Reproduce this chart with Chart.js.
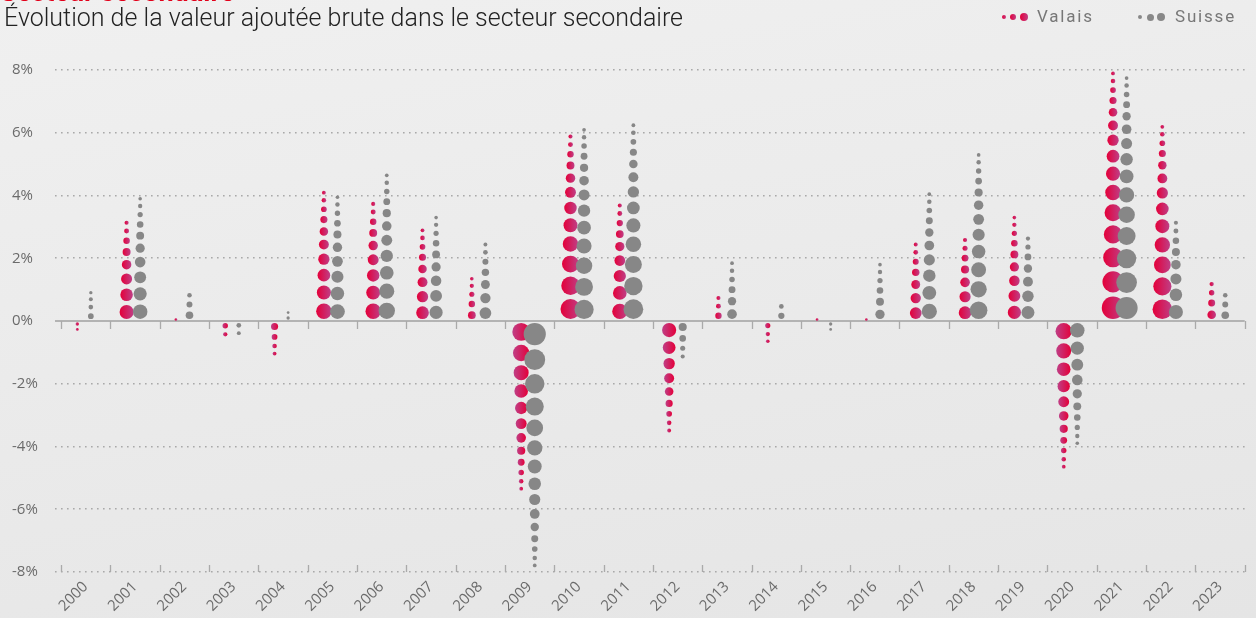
<!DOCTYPE html>
<html>
<head>
<meta charset="utf-8">
<script src="https://cdn.jsdelivr.net/npm/chart.js@4.4.1/dist/chart.umd.min.js"></script>
<style>
  body { margin: 0; }
  #wrap {
    position: relative; width: 1256px; height: 618px; overflow: hidden;
    background: linear-gradient(170deg, #f0f0f0 0%, #e5e5e5 100%);
    font-family: Roboto, "Open Sans", sans-serif;
  }
  #chart { position: absolute; left: 0; top: 0; }
  .title { position: absolute; left: 0; top: -24px; font-size: 27px; font-weight: 700; color: #e2001a; white-space: nowrap; }
  .subtitle { position: absolute; left: 4px; top: 3px; font-size: 25px; font-weight: 300; color: #222; white-space: nowrap; }
  .leg { position: absolute; top: 6px; font-size: 17px; color: #777; letter-spacing: 1.8px; white-space: nowrap; }
  .dot { position: absolute; border-radius: 50%; }
  .red { background: linear-gradient(90deg, #e4003a, #c23c82); }
  .grey { background: #888; }
</style>
</head>
<body>
<div id="wrap">
  <canvas id="chart" width="1256" height="618"></canvas>
  <div class="title">Secteur secondaire</div>
  <div class="subtitle">Évolution de la valeur ajoutée brute dans le secteur secondaire</div>
  <span class="dot red" style="left:1002px;top:15px;width:4px;height:4px"></span>
  <span class="dot red" style="left:1010px;top:14px;width:6px;height:6px"></span>
  <span class="dot red" style="left:1020px;top:13px;width:8px;height:8px"></span>
  <div class="leg" style="left:1037px">Valais</div>
  <span class="dot grey" style="left:1138px;top:15px;width:4px;height:4px"></span>
  <span class="dot grey" style="left:1147px;top:14px;width:7px;height:7px"></span>
  <span class="dot grey" style="left:1157px;top:13px;width:8px;height:8px"></span>
  <div class="leg" style="left:1175px">Suisse</div>
</div>
<script>
// Data (% change of gross value added, secondary sector)
const years = ["2000","2001","2002","2003","2004","2005","2006","2007","2008","2009","2010","2011",
               "2012","2013","2014","2015","2016","2017","2018","2019","2020","2021","2022","2023"];
const valais = [-0.35, 3.25, 0.1, -0.55, -1.15, 4.2, 3.85, 3.0, 1.45, -5.45, 6.0, 3.8,
                -3.6, 0.85, -0.75, 0.1, 0.1, 2.55, 2.7, 3.4, -4.75, 8.0, 6.3, 1.3];
const suisse = [1.0, 4.0, 0.95, -0.5, 0.35, 4.05, 4.75, 3.4, 2.55, -7.9, 6.2, 6.35,
                -1.25, 1.95, 0.6, -0.35, 1.9, 4.15, 5.4, 2.75, -4.0, 7.85, 3.25, 0.95];
const yTicks = [-8, -6, -4, -2, 0, 2, 4, 6, 8];

const RED = "#e4003a", MAG = "#bf3f86", GREY = "#878787";
const PXPCT = 31.375; // pixels per percentage point on the value axis
const PX = 1 / PXPCT;

// A column of dots from the tip back to zero, growing as they get closer to the axis
function column(v, i, dx) {
  const L = Math.abs(v), sgn = v < 0 ? -1 : 1;
  const step = k => (7 + 1.42 * k) * PX;
  const cum = [0];
  for (let k = 0; k < 30; k++) cum.push(cum[k] + step(k));
  let n = 1;
  while (n < 29 && L > Math.sqrt(cum[n] * cum[n + 1])) n++;
  const f = L / cum[n];
  const dots = [];
  for (let k = 0; k < n; k++) {
    const s = f * step(k);
    const dist = L - f * (cum[k] + step(k) / 2);
    const d = Math.max(s - 4 * PX, s * 0.55, 2.6 * PX);
    dots.push({ x: i + dx, y: sgn * dist, r: d * PXPCT / 2, neg: v < 0 });
  }
  return dots;
}

const valaisDots = valais.flatMap((v, i) => column(v, i, -0.17));
const suisseDots = suisse.flatMap((v, i) => column(v, i, 0.105));

function redFill(c) {
  const x = c.chart.scales.x;
  if (!c.raw || !x) return RED;
  const px = x.getPixelForValue(c.raw.x);
  const r = c.raw.r;
  if (!isFinite(px)) return RED;
  const g = c.chart.ctx.createLinearGradient(px - r, 0, px + r, 0);
  g.addColorStop(0, c.raw.neg ? MAG : RED);
  g.addColorStop(1, c.raw.neg ? RED : MAG);
  return g;
}

// zero line and small tick marks at the category boundaries
const axisMarks = {
  id: "axisMarks",
  beforeDatasetsDraw(chart) {
    const { ctx, chartArea, scales: { x, y } } = chart;
    const y0 = y.getPixelForValue(0), yb = y.getPixelForValue(yTicks[0]);
    ctx.save();
    ctx.strokeStyle = "#b3b3b3";
    ctx.lineWidth = 2;
    ctx.beginPath();
    ctx.moveTo(chartArea.left - 6, y0);
    ctx.lineTo(chartArea.right, y0);
    ctx.stroke();
    ctx.lineWidth = 1.3;
    ctx.strokeStyle = "#aaaaaa";
    for (let i = 0; i <= years.length; i++) {
      const px = Math.round(x.getPixelForValue(i - 0.5)) + 0.5;
      ctx.beginPath();
      ctx.moveTo(px, y0); ctx.lineTo(px, y0 + 8);
      ctx.moveTo(px, yb); ctx.lineTo(px, yb - 7);
      ctx.stroke();
    }
    ctx.restore();
  }
};

new Chart(document.getElementById("chart"), {
  type: "bubble",
  data: {
    datasets: [
      { label: "Suisse", data: suisseDots, order: 0, backgroundColor: GREY, borderWidth: 0, clip: false },
      { label: "Valais", data: valaisDots, order: 1, backgroundColor: redFill, borderWidth: 0, clip: false }
    ]
  },
  options: {
    responsive: false,
    animation: false,
    devicePixelRatio: 1,
    events: [],
    layout: { padding: { left: 12, right: 7, top: 70, bottom: 0 } },
    plugins: { legend: { display: false }, tooltip: { enabled: false } },
    scales: {
      x: {
        type: "linear", min: -0.5, max: years.length - 0.5, bounds: "data",
        afterBuildTicks: s => { s.ticks = years.map((_, i) => ({ value: i })); },
        grid: { display: false, drawTicks: false },
        border: { display: false },
        ticks: { color: "#6b6b6b", font: { family: "Open Sans", size: 15 }, minRotation: 45, maxRotation: 45, padding: 6, autoSkip: false,
                 callback: v => years[v] },
        afterFit: s => { s.height = 46; }
      },
      y: {
        type: "linear", min: yTicks[0], max: yTicks[yTicks.length - 1],
        afterBuildTicks: s => { s.ticks = yTicks.map(v => ({ value: v })); },
        grid: {
          color: c => c.tick && c.tick.value === 0 ? "transparent" : "#a9a9a9",
          tickColor: c => c.tick && c.tick.value === 0 ? "transparent" : "#a9a9a9",
          lineWidth: 1.6, tickWidth: 1.6, tickLength: 6, tickBorderDash: [1.6, 4.4]
        },
        border: { display: false, dash: [1.6, 4.4] },
        ticks: { color: "#6b6b6b", font: { family: "Open Sans", size: 15 }, crossAlign: "far", callback: v => v + "%" },
        afterFit: s => { s.width = 49; }
      }
    }
  },
  plugins: [axisMarks]
});
</script>
</body>
</html>
